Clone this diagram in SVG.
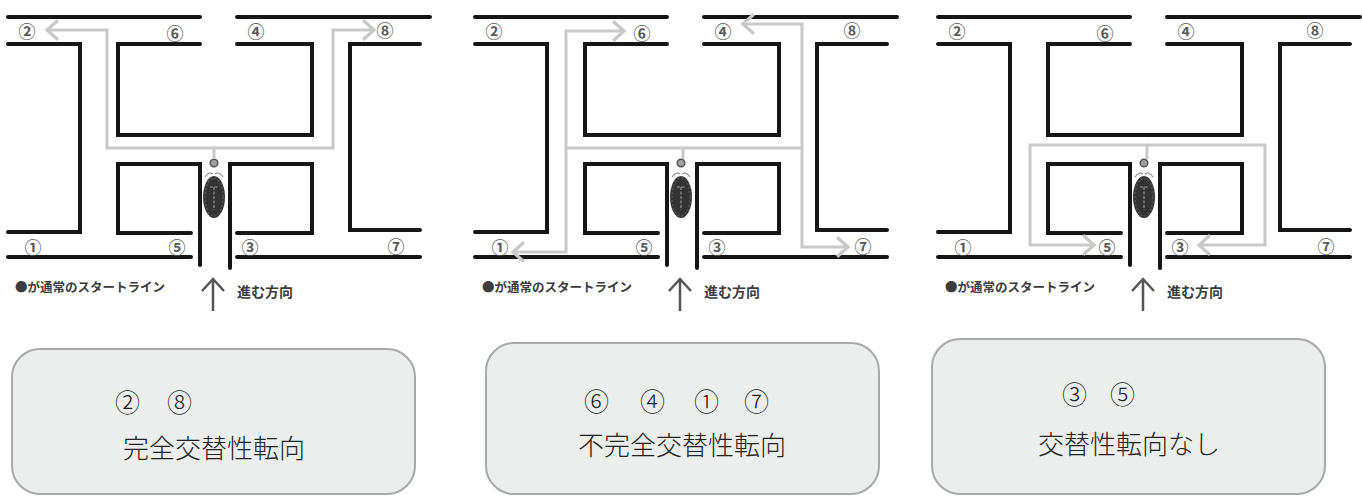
<svg xmlns="http://www.w3.org/2000/svg" xmlns:xlink="http://www.w3.org/1999/xlink" width="1362" height="498" viewBox="0 0 1362 498">
  <style>
    .wall { fill: none; stroke: #161616; stroke-width: 4; stroke-linecap: round; stroke-linejoin: miter; }
    .route { fill: none; stroke: #c9c9c9; stroke-width: 3; stroke-linejoin: miter; }
    .route-arrow { fill: none; stroke: #c9c9c9; stroke-width: 3; }
    .exit { font-family: "Noto Sans CJK JP", "DejaVu Sans", sans-serif; font-size: 17px; font-weight: bold; fill: #5a5a5a; text-anchor: middle; dominant-baseline: central; }
    .legend { font-family: "Noto Sans CJK JP", sans-serif; font-weight: bold; fill: #3c3c3c; }
    .box { fill: #eceeed; stroke: #a9a9a9; stroke-width: 2; }
    .box-text { font-family: "Noto Sans CJK JP", sans-serif; font-weight: 300; fill: #222; }
    .box-num { font-family: "Noto Sans CJK JP", sans-serif; font-weight: 300; fill: #222; font-size: 25px; }
  </style>
  <defs>
    <marker id="chevron" markerUnits="userSpaceOnUse" markerWidth="16" markerHeight="24" viewBox="-2 -11 14 22" refX="10" refY="0" orient="auto" overflow="visible">
      <path class="route-arrow" d="M0,-9 L10,0 L0,9"/>
    </marker>

    <!-- T-maze walls, exits and legend, drawn once and reused for each trial -->
    <g id="maze">
      <path class="wall" d="M8,17 H200"/>
      <path class="wall" d="M237,17 H430"/>
      <path class="wall" d="M8,44 H80 V232 H8"/>
      <path class="wall" d="M200,44 H118 V135 H312 V44 H237"/>
      <path class="wall" d="M420,44 H350 V230 H420"/>
      <path class="wall" d="M191,233 H118 V164 H200 V265"/>
      <path class="wall" d="M230,268 V164 H312 V233 H237"/>
      <path class="wall" d="M8,257 H191"/>
      <path class="wall" d="M237,257 H420"/>

      <text class="exit" x="27" y="30">②</text>
      <text class="exit" x="175" y="32">⑥</text>
      <text class="exit" x="256" y="30">④</text>
      <text class="exit" x="385" y="29">⑧</text>
      <text class="exit" x="33" y="246">①</text>
      <text class="exit" x="177" y="246">⑤</text>
      <text class="exit" x="250" y="246">③</text>
      <text class="exit" x="396" y="245">⑦</text>

      <!-- start dot and pill bug -->
      <circle cx="214" cy="163" r="3.8" fill="#a0a0a0" stroke="#555" stroke-width="1.5"/>
      <path d="M205,177 Q209,171 213,174 M223,177 Q219,171 215,174" fill="none" stroke="#888" stroke-width="1.2"/>
      <ellipse cx="214" cy="197" rx="11" ry="21" fill="#333"/>
      <ellipse cx="214" cy="197" rx="9" ry="19" fill="none" stroke="#4d4d4d" stroke-width="2" stroke-dasharray="2 2"/>
      <path d="M210,187 H218 M214,187 V210" fill="none" stroke="#7a7a7a" stroke-width="1.6" stroke-dasharray="3 1.5"/>

      <text class="legend" x="15" y="292" font-size="12.5">●が通常のスタートライン</text>
      <path d="M213,311 V279 M202,291 L213,279 L224,291" fill="none" stroke="#555" stroke-width="2.5"/>
      <text class="legend" x="237" y="297" font-size="14">進む方向</text>
    </g>
  </defs>

  <!-- trial 1: complete alternation -->
  <g id="maze-complete">
    <use href="#maze" xlink:href="#maze"/>
    <g id="routes-complete">
      <path class="route" d="M214,159 V148 H107 V30 H47" marker-end="url(#chevron)"/>
      <path class="route" d="M214,148 H333 V30 H374" marker-end="url(#chevron)"/>
    </g>
  </g>

  <!-- trial 2: incomplete alternation -->
  <g id="maze-incomplete" transform="translate(467,0)">
    <use href="#maze" xlink:href="#maze"/>
    <g id="routes-incomplete">
      <path class="route" d="M216,159 V148 H99 V31 H157" marker-end="url(#chevron)"/>
      <path class="route" d="M99,148 V252 H46" marker-end="url(#chevron)"/>
      <path class="route" d="M216,148 H335 V24 H276" marker-end="url(#chevron)"/>
      <path class="route" d="M335,148 V247 H381" marker-end="url(#chevron)"/>
    </g>
  </g>

  <!-- trial 3: no alternation -->
  <g id="maze-none" transform="translate(930,0)">
    <use href="#maze" xlink:href="#maze"/>
    <g id="routes-none">
      <path class="route" d="M217,159 V145 H100 V245 H164" marker-end="url(#chevron)"/>
      <path class="route" d="M217,145 H335 V245 H269" marker-end="url(#chevron)"/>
    </g>
  </g>

  <!-- result boxes -->
  <g id="result-complete">
    <rect class="box" x="12" y="349" width="403" height="145" rx="28" ry="28"/>
    <text class="box-num" y="412"><tspan x="115">②</tspan><tspan x="167">⑧</tspan></text>
    <text class="box-text" x="123" y="458" font-size="26">完全交替性転向</text>
  </g>

  <g id="result-incomplete">
    <rect class="box" x="486" y="343" width="393" height="151" rx="28" ry="28"/>
    <text class="box-num" y="411"><tspan x="584">⑥</tspan><tspan x="640">④</tspan><tspan x="694">①</tspan><tspan x="744">⑦</tspan></text>
    <text class="box-text" x="578" y="455" font-size="26">不完全交替性転向</text>
  </g>

  <g id="result-none">
    <rect class="box" x="932" y="339" width="393" height="155" rx="28" ry="28"/>
    <text class="box-num" y="404"><tspan x="1062">③</tspan><tspan x="1110">⑤</tspan></text>
    <text class="box-text" x="1038" y="454" font-size="26">交替性転向なし</text>
  </g>
</svg>
